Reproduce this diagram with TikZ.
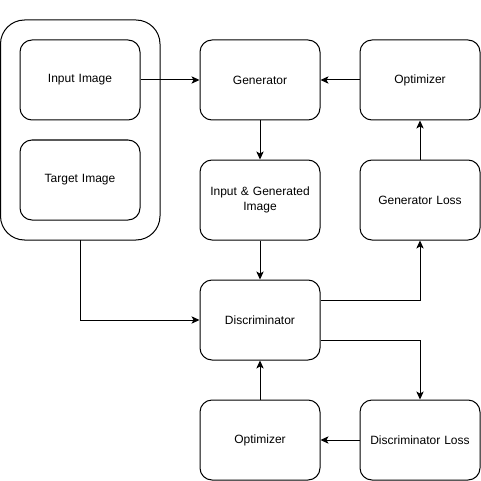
\documentclass[tikz,border=0pt]{standalone}
\usepackage{fontspec}
\setmainfont{Liberation Sans}
\usetikzlibrary{arrows.meta}
\begin{document}
\begin{tikzpicture}[x=0.75pt,y=-0.75pt,line width=0.75pt,
  box/.style={draw,rounded corners=9pt,minimum width=90pt,minimum height=60pt,align=center,font=\fontsize{9pt}{11pt}\selectfont,inner sep=0pt,text width=84pt},
  arr/.style={-{Stealth[length=6pt,width=5.5pt,inset=1.5pt]}}]
\useasboundingbox (0,0) rectangle (481,481);
\draw[rounded corners=18pt] (0.5,20) rectangle (160,240);
\coordinate (grp) at (80,240);
\node[box] (inp) at (80,80) {Input Image};
\node[box] (tgt) at (80,180) {Target Image};
\node[box] (gen) at (260,80) {Generator};
\node[box] (opt1) at (420,80) {Optimizer};
\node[box] (ig) at (260,200) {Input \& Generated\\Image};
\node[box] (gl) at (420,200) {Generator Loss};
\node[box] (dis) at (260,320) {Discriminator};
\node[box] (opt2) at (260,440) {Optimizer};
\node[box] (dl) at (420,440) {Discriminator Loss};
\draw[arr] (inp) -- (gen);
\draw[arr] (opt1) -- (gen);
\draw[arr] (gen) -- (ig);
\draw[arr] (ig) -- (dis);
\draw[arr] (grp) |- (dis);
\draw[arr] ([yshift=15pt]dis.east) -| (gl.south);
\draw[arr] (gl) -- (opt1);
\draw[arr] ([yshift=-15pt]dis.east) -| (dl.north);
\draw[arr] (dl) -- (opt2);
\draw[arr] (opt2) -- (dis);
\end{tikzpicture}
\end{document}
